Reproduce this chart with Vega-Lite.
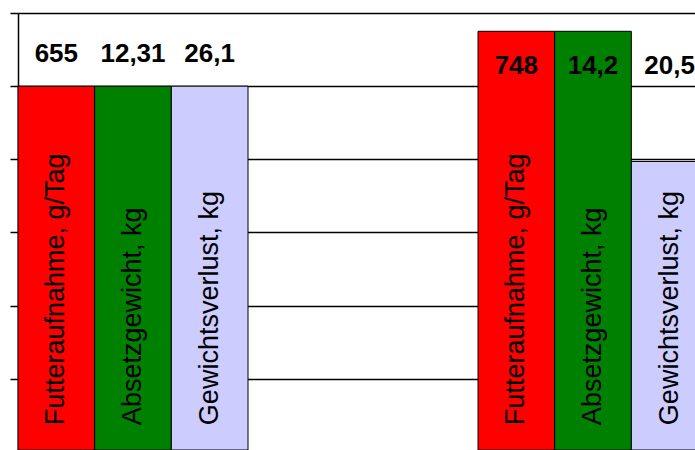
{
  "$schema": "https://vega.github.io/schema/vega-lite/v6.json",
  "usermeta": {"embedOptions": {"actions": false}},
  "autosize": {"type": "none"},
  "padding": {"left": 18, "top": 13, "right": 0, "bottom": 0},
  "width": 677,
  "height": 437,
  "background": "white",
  "config": {"view": {"stroke": null}, "font": "Liberation Sans"},
  "data": {
    "values": [
      {"group": "A", "measure": "Futteraufnahme, g/Tag", "value": 100, "label": "655"},
      {"group": "A", "measure": "Absetzgewicht, kg", "value": 100, "label": "12,31"},
      {"group": "A", "measure": "Gewichtsverlust, kg", "value": 100, "label": "26,1"},
      {"group": "B", "measure": "Futteraufnahme, g/Tag", "value": 115, "label": "748"},
      {"group": "B", "measure": "Absetzgewicht, kg", "value": 115, "label": "14,2"},
      {"group": "B", "measure": "Gewichtsverlust, kg", "value": 79.4, "label": "20,5"}
    ]
  },
  "encoding": {
    "x": {
      "field": "group",
      "type": "nominal",
      "axis": null,
      "scale": {"domain": ["A", "B"], "range": [0, 690], "paddingInner": 0.5, "paddingOuter": 0}
    },
    "xOffset": {
      "field": "measure",
      "type": "nominal",
      "scale": {
        "domain": ["Futteraufnahme, g/Tag", "Absetzgewicht, kg", "Gewichtsverlust, kg"],
        "paddingInner": 0,
        "paddingOuter": 0
      }
    }
  },
  "layer": [
    {
      "mark": {"type": "bar", "stroke": "black", "strokeWidth": 1},
      "encoding": {
        "y": {
          "field": "value",
          "type": "quantitative",
          "scale": {"domain": [0.5, 120], "nice": false, "zero": false, "clamp": true},
          "axis": {
            "title": null,
            "labels": false,
            "values": [20, 40, 60, 80, 100, 120],
            "grid": true,
            "gridColor": "black",
            "gridOpacity": 1,
            "gridWidth": 1.5,
            "tickColor": "black",
            "tickSize": 8,
            "tickWidth": 1.5,
            "domainColor": "black",
            "domainWidth": 1.5
          }
        },
        "color": {
          "field": "measure",
          "type": "nominal",
          "scale": {
            "domain": ["Futteraufnahme, g/Tag", "Absetzgewicht, kg", "Gewichtsverlust, kg"],
            "range": ["#ff0000", "#008000", "#ccccff"]
          },
          "legend": null
        }
      }
    },
    {
      "transform": [{"filter": "datum.group === 'A'"}],
      "mark": {"type": "text", "fontSize": 26, "fontWeight": "bold", "color": "black", "baseline": "middle"},
      "encoding": {
        "y": {"datum": 108.8, "type": "quantitative"},
        "text": {"field": "label"}
      }
    },
    {
      "transform": [{"filter": "datum.group === 'B'"}],
      "mark": {"type": "text", "fontSize": 26, "fontWeight": "bold", "color": "black", "baseline": "middle"},
      "encoding": {
        "y": {"datum": 105.5, "type": "quantitative"},
        "text": {"field": "label"}
      }
    },
    {
      "mark": {"type": "text", "fontSize": 27, "angle": 270, "align": "left", "baseline": "middle", "color": "black"},
      "encoding": {
        "y": {"datum": 7.3, "type": "quantitative"},
        "text": {"field": "measure"}
      }
    }
  ]
}
